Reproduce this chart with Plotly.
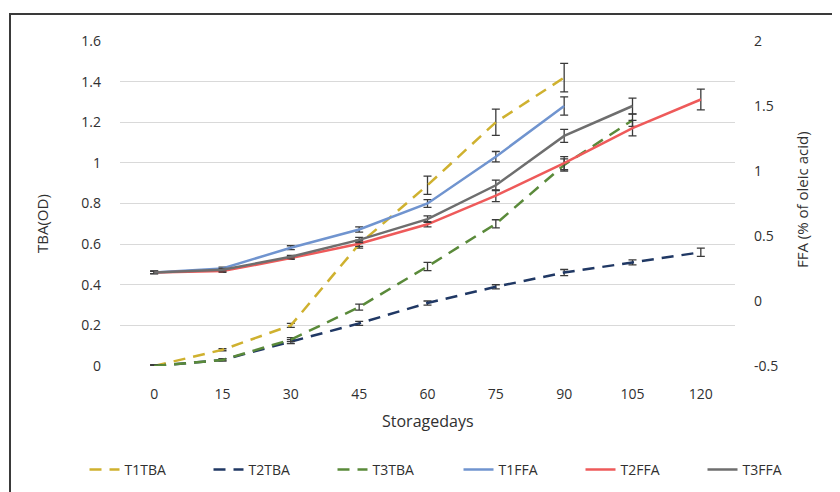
import plotly.graph_objects as go

days = [0, 15, 30, 45, 60, 75, 90, 105, 120]

# TBA (OD) - left axis
t1_tba = [0, 0.08, 0.20, 0.60, 0.89, 1.20, 1.42]
t1_tba_err = [0.005, 0.005, 0.01, 0.02, 0.045, 0.065, 0.07]
t2_tba = [0, 0.03, 0.12, 0.21, 0.31, 0.39, 0.46, 0.51, 0.56]
t2_tba_err = [0.005, 0.005, 0.01, 0.01, 0.01, 0.01, 0.015, 0.012, 0.02]
t3_tba = [0, 0.03, 0.13, 0.29, 0.49, 0.70, 0.99, 1.21]
t3_tba_err = [0.005, 0.005, 0.01, 0.015, 0.02, 0.02, 0.03, 0.03]

# FFA (% of oleic acid) - right axis
t1_ffa = [0.22, 0.25, 0.41, 0.55, 0.75, 1.11, 1.50]
t1_ffa_err = [0.01, 0.01, 0.015, 0.02, 0.03, 0.04, 0.07]
t2_ffa = [0.22, 0.23, 0.33, 0.44, 0.59, 0.81, 1.06, 1.33, 1.55]
t2_ffa_err = [0.01, 0.01, 0.01, 0.02, 0.02, 0.045, 0.05, 0.06, 0.08]
t3_ffa = [0.22, 0.24, 0.34, 0.47, 0.63, 0.89, 1.27, 1.50]
t3_ffa_err = [0.01, 0.01, 0.01, 0.02, 0.025, 0.04, 0.05, 0.06]

left_ticks = [0, 0.2, 0.4, 0.6, 0.8, 1, 1.2, 1.4, 1.6]
left_labels = ["0", "0.2", "0.4", "0.6", "0.8", "1", "1.2", "1.4", "1.6"]
right_ticks = [-0.5, 0, 0.5, 1, 1.5, 2]
right_labels = ["-0.5", "0", "0.5", "1", "1.5", "2"]

FONT = "Open Sans"
TXT = "#303030"
ERRC = "#3a3a3a"

# page body has an 8px margin; plot area should sit at page x 120..735, y 41..366
OFF = 8
PL, PR, PT, PB = 120, 735, 41, 366
PW, PH = PR - PL, PB - PT

fig = go.Figure()


def add(name, y, err, color, dash, axis, legend):
    fig.add_trace(go.Scatter(
        x=days[:len(y)], y=y, name=name, mode="lines", yaxis=axis,
        legend=legend,
        line=dict(color=color, width=2.5, dash=dash),
        error_y=dict(type="data", array=err, visible=True, color=ERRC,
                     thickness=1.3, width=4),
    ))


add("T1TBA", t1_tba, t1_tba_err, "#cfb12f", "12px,8px", "y", "legend")
add("T2TBA", t2_tba, t2_tba_err, "#203864", "12px,8px", "y", "legend")
add("T3TBA", t3_tba, t3_tba_err, "#5a8a3a", "12px,8px", "y", "legend")
add("T1FFA", t1_ffa, t1_ffa_err, "#7094cf", "solid", "y2", "legend2")
add("T2FFA", t2_ffa, t2_ffa_err, "#ee5a5a", "solid", "y2", "legend2")
add("T3FFA", t3_ffa, t3_ffa_err, "#6e6e6e", "solid", "y2", "legend2")


def px(x):
    return (x - PL) / PW


def py(y):
    return (PB - y) / PH


leg_common = dict(orientation="h", xanchor="left", y=py(470), yanchor="middle",
                  entrywidthmode="pixels",
                  font=dict(size=14, color=TXT), bgcolor="rgba(0,0,0,0)")

fig.update_layout(
    width=840, height=492,
    margin=dict(l=PL - OFF, r=840 - (PR - OFF), t=PT - OFF,
                b=492 - (PB - OFF), autoexpand=False),
    paper_bgcolor="white", plot_bgcolor="white",
    font=dict(family=FONT, size=14, color=TXT),
    showlegend=True,
    legend=dict(x=px(84.5), entrywidth=79, **leg_common),
    legend2=dict(x=px(458.5), entrywidth=77, **leg_common),
    xaxis=dict(range=[-7.5, 127.5], tickvals=days,
               ticktext=[str(d) for d in days], showgrid=False,
               zeroline=False, showline=False, ticks="",
               ticklabelstandoff=18, tickfont=dict(size=14, color=TXT)),
    yaxis=dict(range=[0, 1.6], tickvals=left_ticks, ticktext=left_labels,
               showgrid=True, gridcolor="#d9d9d9", gridwidth=1,
               zeroline=False, showline=False, ticks="",
               ticklabelstandoff=18, tickfont=dict(size=14, color=TXT)),
    yaxis2=dict(range=[-0.5, 2], tickvals=right_ticks, ticktext=right_labels,
                overlaying="y", side="right", showgrid=False,
                zeroline=False, showline=False, ticks="",
                ticklabelstandoff=18, tickfont=dict(size=14, color=TXT)),
    shapes=[dict(type="rect", xref="paper", yref="paper",
                 x0=px(10), y0=py(520), x1=px(870), y1=py(14),
                 line=dict(color="#3a3a3a", width=2), fillcolor="rgba(0,0,0,0)",
                 layer="below")],
    annotations=[
        dict(text="TBA(OD)", xref="paper", yref="paper", x=px(42),
             y=py(224), showarrow=False, textangle=-90,
             font=dict(size=15, color=TXT), xanchor="center", yanchor="middle"),
        dict(text="FFA (% of oleic acid)", xref="paper", yref="paper",
             x=px(802), y=py(200), showarrow=False,
             textangle=-90, font=dict(size=15, color=TXT),
             xanchor="center", yanchor="middle"),
        dict(text="Storagedays", xref="paper", yref="paper", x=0.5,
             y=py(421), showarrow=False,
             font=dict(size=16, color=TXT), xanchor="center", yanchor="middle"),
    ],
)

fig.write_html("out.html")
